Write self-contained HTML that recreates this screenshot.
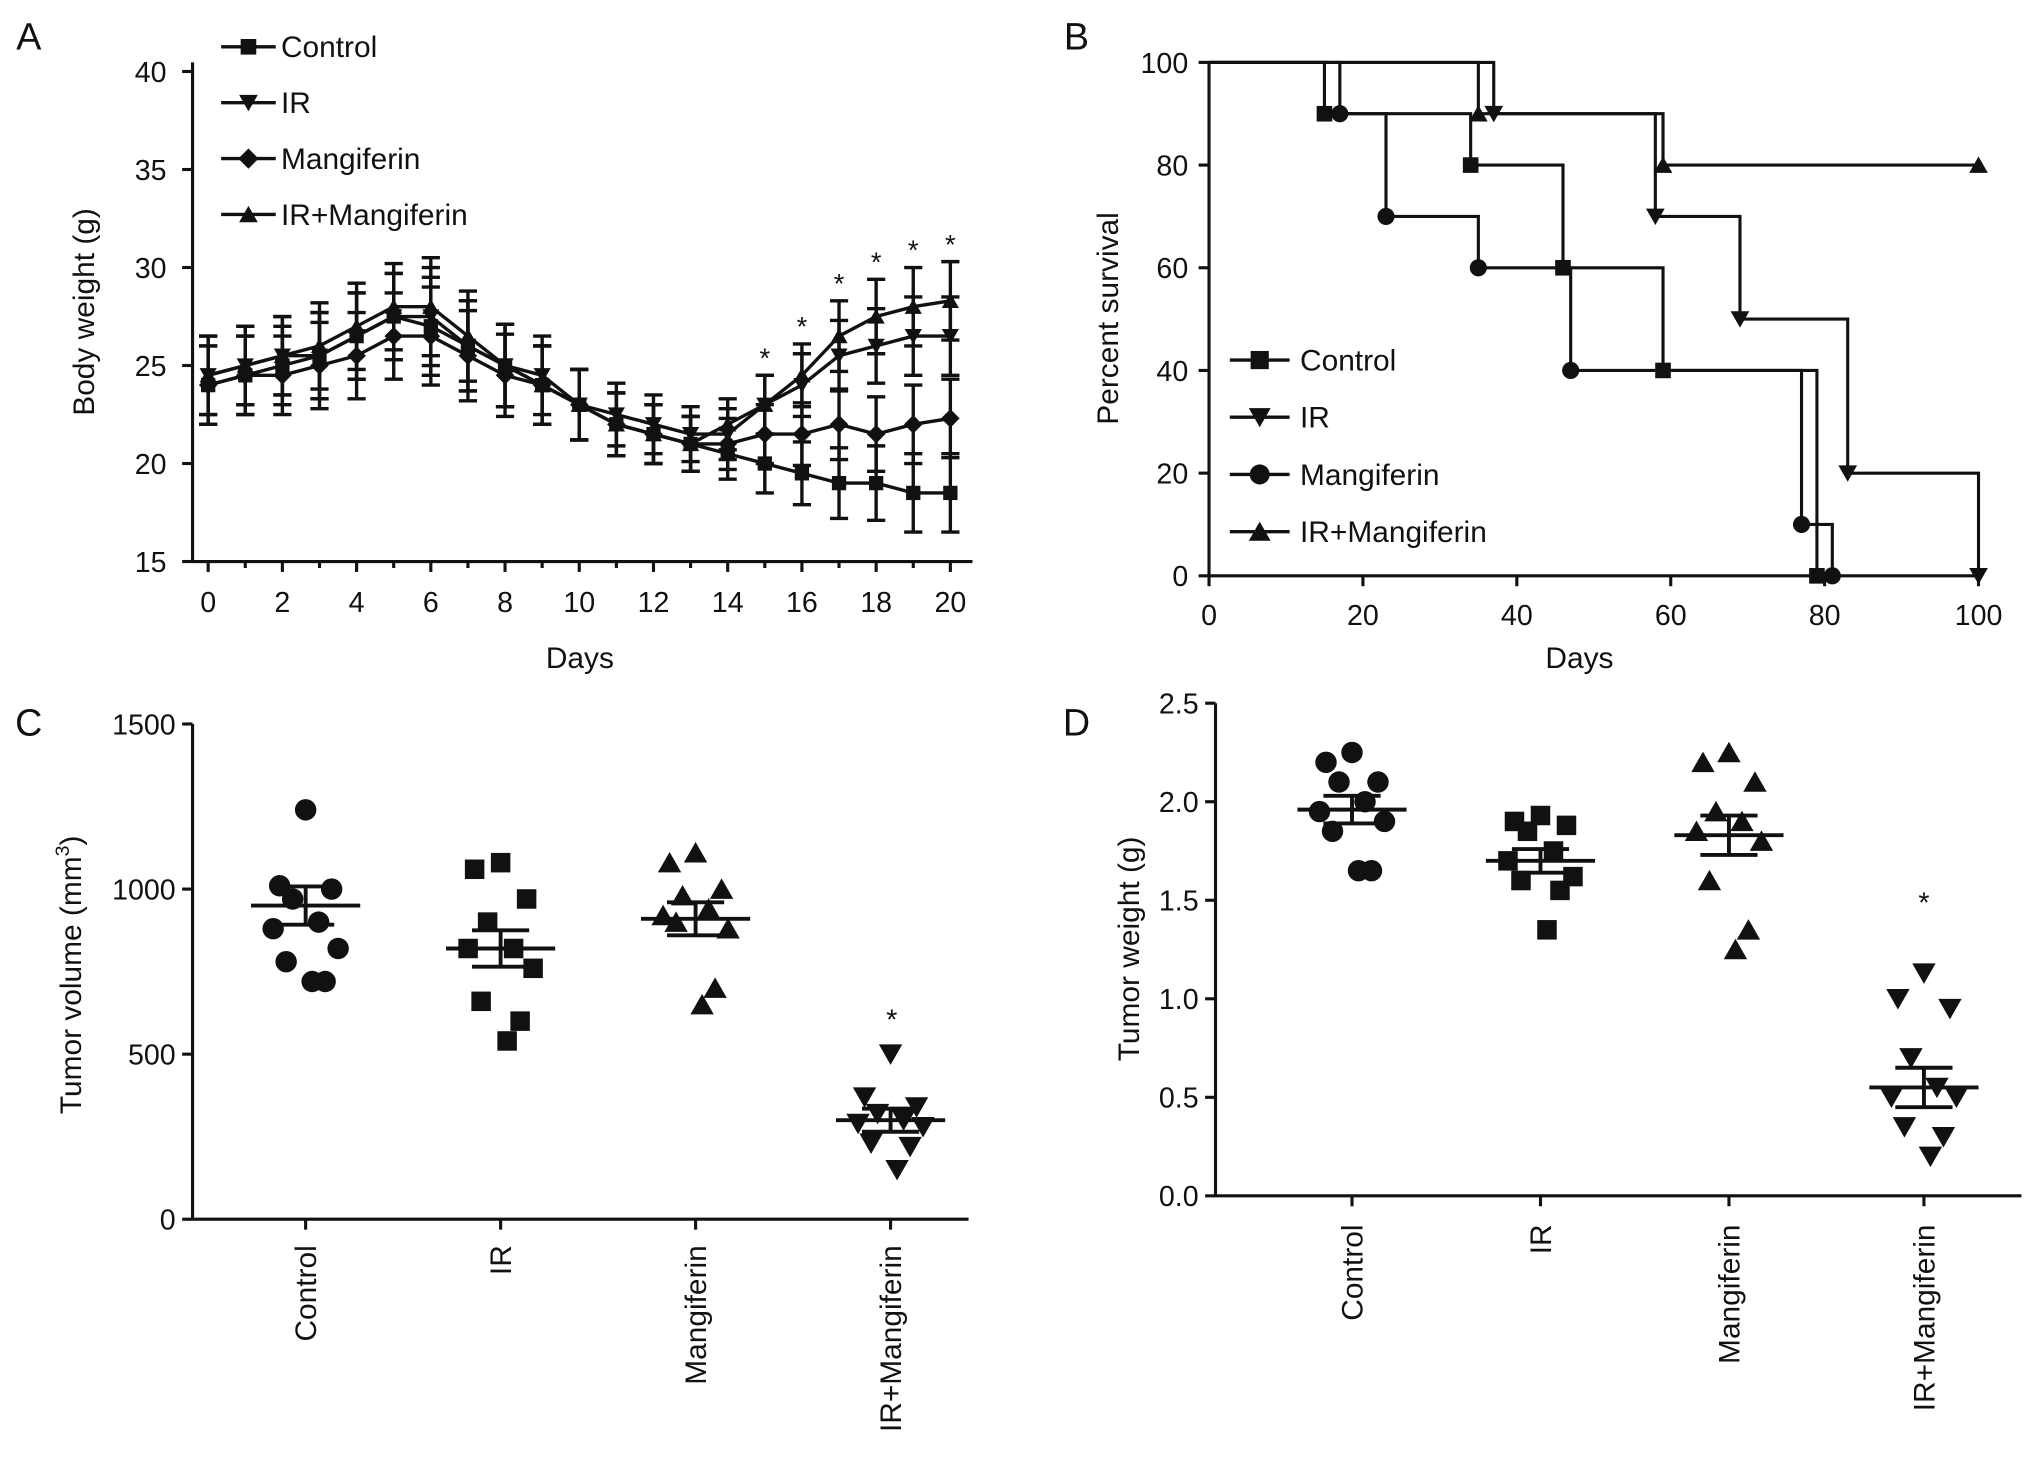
<!DOCTYPE html>
<html><head><meta charset="utf-8"><style>
html,body{margin:0;padding:0;background:#fff;}
svg{display:block;font-family:"Liberation Sans",Arial,sans-serif;}
</style></head><body>
<svg id="fig" width="2032" height="1474" viewBox="0 0 1563 1134" xmlns="http://www.w3.org/2000/svg"></svg>
<script>
// ---------- Panel A data ----------
const daysA=[0,1,2,3,4,5,6,7,8,9,10,11,12,13,14,15,16,17,18,19,20];
const ctrlA=[24,24.5,25,25.5,26.5,27.5,27,26,25,24,23,22,21.5,21,20.5,20,19.5,19,19,18.5,18.5];
const irA=[24.5,25,25.5,25.5,26.5,27.5,27.5,26,25,24.5,23,22.5,22,21.5,21.5,23,24,25.5,26,26.5,26.5];
const mangA=[24,24.5,24.5,25,25.5,26.5,26.5,25.5,24.5,24,23,22,21.5,21,21,21.5,21.5,22,21.5,22,22.3];
const irmA=[24.5,25,25.5,26,27,28,28,26.5,25,24,23,22,21.5,21,22,23,24.5,26.5,27.5,28,28.3];
const errA=[2,2,2,2.2,2.2,2.2,2.5,2.3,2.1,2,1.8,1.6,1.5,1.4,1.3,1.5,1.6,1.8,1.9,2,2];
const starsA=[15,16,17,18,19,20];
const yTicksA=[15,20,25,30,35,40];
const xTicksA=[0,2,4,6,8,10,12,14,16,18,20];
// ---------- Panel B data ----------
const ctrlB_t=[15,34,46,59,79]; const ctrlB_s=[90,80,60,40,0];
const irB_t=[37,58,69,83,100]; const irB_s=[90,70,50,20,0];
const mangB_t=[17,23,35,47,77,81]; const mangB_s=[90,70,60,40,10,0];
const irmB_t=[35,59]; const irmB_s=[90,80];
const xTicksB=[0,20,40,60,80,100];
const yTicksB=[0,20,40,60,80,100];
// ---------- Panel C data ----------
const groups=["Control","IR","Mangiferin","IR+Mangiferin"];
const volCtrl=[1240,1010,1000,970,900,880,820,780,720,720];
const volIR=[1080,1060,970,900,820,820,760,660,600,540];
const volMang=[1110,1080,1000,980,940,920,880,900,700,650];
const volIRM=[500,370,340,320,300,290,280,230,220,150];
const volMean=[950,820,910,300];
const volSem=[58,55,50,35];
const yTicksC=[0,500,1000,1500];
// ---------- Panel D data ----------
const wCtrl=[2.25,2.2,2.1,2.1,2.0,1.95,1.9,1.85,1.65,1.65];
const wIR=[1.93,1.9,1.88,1.85,1.75,1.7,1.62,1.6,1.55,1.35];
const wMang=[2.25,2.2,2.1,1.95,1.9,1.85,1.8,1.6,1.35,1.25];
const wIRM=[1.13,1.0,0.95,0.7,0.55,0.5,0.5,0.35,0.3,0.2];
const wMean=[1.96,1.70,1.83,0.55];
const wSem=[0.07,0.06,0.1,0.1];
const yTicksD=[0.0,0.5,1.0,1.5,2.0,2.5];

const svg=document.getElementById('fig');
const NS="http://www.w3.org/2000/svg";
function mk(tag,attrs,parent,name){const e=document.createElementNS(NS,tag);for(const k in attrs)e.setAttribute(k,attrs[k]);


(parent||svg).appendChild(e);return e;}
function txt(x,y,s,size,anchor,parent,name,rot){const t=mk('text',{x:x,y:y,'font-size':size,'text-anchor':anchor||'middle',fill:'#111'},parent,name);
if(rot)t.setAttribute('transform',`rotate(${rot} ${x} ${y})`);t.textContent=s;return t;}
function line(x1,y1,x2,y2,w,parent,name){return mk('line',{x1,y1,x2,y2,stroke:'#111','stroke-width':w||2.4},parent,name);}
function marker(type,x,y,r,parent,name){
 let p;
 if(type==='square')p=mk('rect',{x:x-r,y:y-r,width:2*r,height:2*r,fill:'#111'},parent,name);
 else if(type==='circle')p=mk('circle',{cx:x,cy:y,r:r*1.1,fill:'#111'},parent,name);
 else if(type==='down')p=mk('polygon',{points:`${x-r*1.2},${y-r} ${x+r*1.2},${y-r} ${x},${y+r*1.1}`,fill:'#111'},parent,name);
 else if(type==='up')p=mk('polygon',{points:`${x-r*1.2},${y+r} ${x+r*1.2},${y+r} ${x},${y-r*1.1}`,fill:'#111'},parent,name);
 else if(type==='diamond')p=mk('polygon',{points:`${x},${y-r*1.3} ${x+r*1.3},${y} ${x},${y+r*1.3} ${x-r*1.3},${y}`,fill:'#111'},parent,name);
 return p;}

// panel letters
txt(22,38,"A",29,'middle',svg,'panel-label-a');
txt(828,38,"B",29,'middle',svg,'panel-label-b');
txt(22,566,"C",29,'middle',svg,'panel-label-c');
txt(828,566,"D",29,'middle',svg,'panel-label-d');

// ===== Panel A =====
const gA=mk('g',{},svg,'panel-a-body-weight-chart');
const xA=d=>160+d*28.55, yA=v=>432-(v-15)*15.08;
line(148,48,148,432,2.4,gA,'y-axis');line(148,432,748,432,2.4,gA,'x-axis');
yTicksA.forEach(v=>{line(140,yA(v),148,yA(v),2.4,gA,'y-tick');txt(128,yA(v)+8,String(v),22,'end',gA,'y-tick-label');});
xTicksA.forEach(d=>{line(xA(d),432,xA(d),440,2.4,gA,'x-tick');txt(xA(d),471,String(d),22,'middle',gA,'x-tick-label');});
daysA.forEach(d=>{if(d%2)line(xA(d),432,xA(d),437,2.4,gA,'x-minor-tick');});
txt(446,514,"Days",23,'middle',gA,'x-axis-title');
txt(72,240,"Body weight (g)",23,'middle',gA,'y-axis-title',-90);
const seriesA=[[ctrlA,'square','control'],[irA,'down','ir'],[mangA,'diamond','mangiferin'],[irmA,'up','ir-mangiferin']];
seriesA.forEach(([vals,m,n])=>{
 const g=mk('g',{},gA,'series-'+n);
 vals.forEach((v,i)=>{const x=xA(daysA[i]);line(x,yA(v+errA[i]),x,yA(v-errA[i]),2.6,g,'error-bar');
  line(x-7,yA(v+errA[i]),x+7,yA(v+errA[i]),2.6,g,'error-cap');line(x-7,yA(v-errA[i]),x+7,yA(v-errA[i]),2.6,g,'error-cap');});
 mk('polyline',{points:vals.map((v,i)=>xA(daysA[i])+','+yA(v)).join(' '),fill:'none',stroke:'#111','stroke-width':2.6},g,'line-'+n);
 vals.forEach((v,i)=>marker(m,xA(daysA[i]),yA(v),5.5,g,'point-'+n));
});
starsA.forEach((d,i)=>{const v=Math.max(irmA[d],irA[d])+errA[d];txt(xA(d),yA(v)-6,"*",21,'middle',gA,'significance-star');});
const legA=[["Control",'square'],["IR",'down'],["Mangiferin",'diamond'],["IR+Mangiferin",'up']];
legA.forEach(([l,m],i)=>{const y=36+i*43;line(170,y,212,y,2.6,gA,'legend-line');marker(m,191,y,6,gA,'legend-marker');txt(216,y+8,l,23,'start',gA,'legend-entry');});

// ===== Panel B =====
const gB=mk('g',{},svg,'panel-b-survival-chart');
const xB=t=>930+t*5.92, yB=s=>443-s*3.95;
line(930,48,930,443,2.4,gB,'y-axis');line(930,443,1522,443,2.4,gB,'x-axis');
yTicksB.forEach(v=>{line(922,yB(v),930,yB(v),2.4,gB,'y-tick');txt(914,yB(v)+8,String(v),22,'end',gB,'y-tick-label');});
xTicksB.forEach(t=>{line(xB(t),443,xB(t),451,2.4,gB,'x-tick');txt(xB(t),481,String(t),22,'middle',gB,'x-tick-label');});
txt(1215,514,"Days",23,'middle',gB,'x-axis-title');
txt(860,245,"Percent survival",23,'middle',gB,'y-axis-title',-90);
function km(ts,ss,end,m,n){
 const g=mk('g',{},gB,'survival-'+n);let pts=[[0,100]];let cur=100;
 ts.forEach((t,i)=>{pts.push([t,cur]);pts.push([t,ss[i]]);cur=ss[i];});
 if(cur>0)pts.push([end,cur]);
 mk('polyline',{points:pts.map(p=>xB(p[0])+','+yB(p[1])).join(' '),fill:'none',stroke:'#111','stroke-width':2.4},g,'step-line-'+n);
 ts.forEach((t,i)=>marker(m,xB(t),yB(ss[i]),6,g,'censor-marker'));
 if(cur>0)marker(m,xB(end),yB(cur),6,g,'end-marker');
}
km(ctrlB_t,ctrlB_s,100,'square','control');
km(irB_t,irB_s,100,'down','ir');
km(mangB_t,mangB_s,100,'circle','mangiferin');
km(irmB_t,irmB_s,100,'up','ir-mangiferin');
legA.forEach(([l,m],i)=>{const mm=m==='diamond'?'circle':m;const y=277+i*44;line(946,y,992,y,2.6,gB,'legend-line');marker(mm,969,y,7,gB,'legend-marker');txt(1000,y+8,l,23,'start',gB,'legend-entry');});

// ===== scatter helper =====
const jit=[0,-20,20,-10,10,-25,25,-15,15,5];
function scatter(g,cx,vals,yf,m,n){vals.forEach((v,i)=>marker(m,cx+jit[i],yf(v),7.5,g,'point-'+n));}
function meanBar(g,cx,mean,sem,yf){line(cx-42,yf(mean),cx+42,yf(mean),3,g,'mean-line');
 line(cx,yf(mean+sem),cx,yf(mean-sem),3,g,'sem-bar');line(cx-22,yf(mean+sem),cx+22,yf(mean+sem),3,g,'sem-cap');line(cx-22,yf(mean-sem),cx+22,yf(mean-sem),3,g,'sem-cap');}

// ===== Panel C =====
const gC=mk('g',{},svg,'panel-c-tumor-volume-chart');
const yC=v=>938-v*0.254; const catC=[235,385,535,685];
line(148,557,148,938,2.4,gC,'y-axis');line(148,938,745,938,2.4,gC,'x-axis');
yTicksC.forEach(v=>{line(140,yC(v),148,yC(v),2.4,gC,'y-tick');txt(135,yC(v)+8,String(v),22,'end',gC,'y-tick-label');});
groups.forEach((gname,i)=>{line(catC[i],938,catC[i],946,2.4,gC,'x-tick');txt(catC[i]+8,958,gname,23,'end',gC,'x-tick-label',-90);});
const yt=mk('text',{x:62,y:750,'font-size':23,'text-anchor':'middle',fill:'#111',transform:'rotate(-90 62 750)'},gC,'y-axis-title');
yt.innerHTML='Tumor volume (mm<tspan font-size="15" dy="-9">3</tspan><tspan dy="9">)</tspan>';
[[volCtrl,'circle'],[volIR,'square'],[volMang,'up'],[volIRM,'down']].forEach(([v,m],i)=>{const g=mk('g',{},gC,'group-'+i);scatter(g,catC[i],v,yC,m,groups[i]);meanBar(g,catC[i],volMean[i],volSem[i],yC);});
txt(686,792,"*",22,'middle',gC,'significance-star');

// ===== Panel D =====
const gD=mk('g',{},svg,'panel-d-tumor-weight-chart');
const yD=v=>920-v*151.6; const catD=[1040,1185,1330,1480];
line(935,541,935,920,2.4,gD,'y-axis');line(935,920,1555,920,2.4,gD,'x-axis');
yTicksD.forEach(v=>{line(927,yD(v),935,yD(v),2.4,gD,'y-tick');txt(922,yD(v)+8,v.toFixed(1),22,'end',gD,'y-tick-label');});
groups.forEach((gname,i)=>{line(catD[i],920,catD[i],928,2.4,gD,'x-tick');txt(catD[i]+8,942,gname,23,'end',gD,'x-tick-label',-90);});
txt(876,730,"Tumor weight (g)",23,'middle',gD,'y-axis-title',-90);
[[wCtrl,'circle'],[wIR,'square'],[wMang,'up'],[wIRM,'down']].forEach(([v,m],i)=>{const g=mk('g',{},gD,'group-'+i);scatter(g,catD[i],v,yD,m,groups[i]);meanBar(g,catD[i],wMean[i],wSem[i],yD);});
txt(1480,702,"*",22,'middle',gD,'significance-star');
</script>
</body></html>
